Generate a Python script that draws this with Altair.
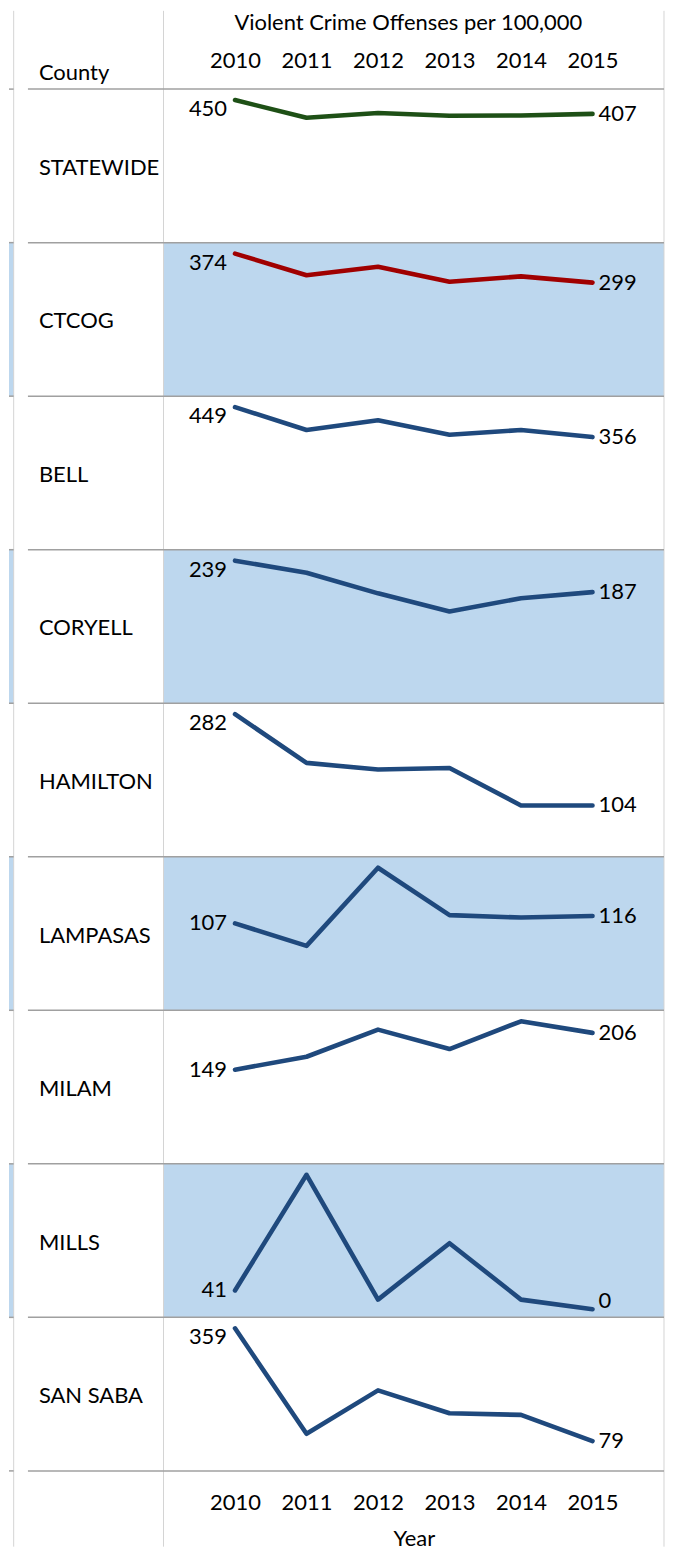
import altair as alt
import pandas as pd

# ---- data ----
counties = ["STATEWIDE", "CTCOG", "BELL", "CORYELL", "HAMILTON",
            "LAMPASAS", "MILAM", "MILLS", "SAN SABA"]
years = [2010, 2011, 2012, 2013, 2014, 2015]

statewide = [450, 395, 410, 401, 402, 407]
ctcog = [374, 318, 340, 301, 315, 299]
bell = [449, 378, 408, 363, 378, 356]
coryell = [239, 219, 185, 155, 177, 187]
hamilton = [282, 187, 174, 177, 104, 104]
lampasas = [107, 80, 174, 117, 114, 116]
milam = [149, 169, 211, 181, 224, 206]
mills = [41, 293, 21, 144, 21, 0]
san_saba = [359, 97, 205, 148, 144, 79]

series = [statewide, ctcog, bell, coryell, hamilton, lampasas, milam, mills, san_saba]
groups = ["State", "Region", "County", "County", "County",
          "County", "County", "County", "County"]
axis_floor = [0, 0, 0, 0, 0, 0, 0, -22, 0]
shaded = [0, 1, 0, 1, 0, 1, 0, 1, 0]

rows = []
for c, vals, g, fl, sh in zip(counties, series, groups, axis_floor, shaded):
    for y, v in zip(years, vals):
        rows.append({"County": c, "Year": y, "Value": v, "Group": g,
                     "Floor": fl, "Shade": sh})
df = pd.DataFrame(rows)

# ---- styling ----
FONT = "Lato"
FS = 22
W, H = 502, 154
TOP_PAD, ZERO_OFF = 11, 156
BLUE_BG = "#BDD7EE"
HLINE = "#A0A0A0"
VLINE = "#D4D4D4"

y_scale = alt.Scale(domain=[(ZERO_OFF - H) / (ZERO_OFF - TOP_PAD),
                            ZERO_OFF / (ZERO_OFF - TOP_PAD)],
                    nice=False, zero=False)
x_scale = alt.Scale(type="point", padding=1)
lo_lbl = (ZERO_OFF - 138) / (ZERO_OFF - TOP_PAD)
hi_lbl = (ZERO_OFF - 20) / (ZERO_OFF - TOP_PAD)

top_axis = alt.Axis(orient="top", title="Violent Crime Offenses per 100,000",
                    labelAngle=0, ticks=False, tickSize=0, domain=False, grid=False,
                    labelFont=FONT, labelFontSize=FS, labelColor="black",
                    labelPadding=16.5, titleFont=FONT, titleFontSize=FS,
                    titleFontWeight="normal", titleColor="black", titlePadding=15,
                    titleX=245, titleAlign="center")
bottom_axis = alt.Axis(orient="bottom", title="Year",
                       labelAngle=0, ticks=False, tickSize=0, domain=False, grid=False,
                       labelFont=FONT, labelFontSize=FS, labelColor="black",
                       labelPadding=21.5, titleFont=FONT, titleFontSize=FS,
                       titleFontWeight="normal", titleColor="black", titlePadding=15)

base = alt.Chart().transform_joinaggregate(
    vmax="max(Value)", groupby=["County"]
).transform_calculate(
    n="(datum.Value - datum.Floor) / (datum.vmax - datum.Floor)",
    ln=f"clamp((datum.Value - datum.Floor) / (datum.vmax - datum.Floor), {lo_lbl}, {hi_lbl})",
)
first = base.transform_filter("datum.Year == 2010")

layers = []
# shaded backgrounds
shade = first.transform_filter("datum.Shade == 1")
layers.append(shade.mark_rect(color=BLUE_BG).encode(
    x=alt.value(0), x2=alt.value(W), y=alt.value(0), y2=alt.value(H)))
layers.append(shade.mark_rect(color=BLUE_BG).encode(
    x=alt.value(-155), x2=alt.value(-150.3), y=alt.value(0), y2=alt.value(H)))

# vertical grid lines
last_row = first.transform_filter("datum.County == 'SAN SABA'")
top_row = first.transform_filter("datum.County == 'STATEWIDE'")
for xv in [-150.3, 0, W]:
    layers.append(first.mark_rule(color=VLINE, strokeWidth=1).encode(
        x=alt.value(xv), y=alt.value(0), y2=alt.value(H)))
    layers.append(top_row.mark_rule(color=VLINE, strokeWidth=1).encode(
        x=alt.value(xv), y=alt.value(-78.5), y2=alt.value(0)))
    layers.append(last_row.mark_rule(color=VLINE, strokeWidth=1).encode(
        x=alt.value(xv), y=alt.value(H), y2=alt.value(H + 76)))

# horizontal row lines
layers.append(first.mark_rule(color=HLINE, strokeWidth=1.5).encode(
    x=alt.value(-136), x2=alt.value(W), y=alt.value(0)))
layers.append(first.mark_rule(color=HLINE, strokeWidth=1.5).encode(
    x=alt.value(-155), x2=alt.value(-150.3), y=alt.value(0)))
layers.append(last_row.mark_rule(color=HLINE, strokeWidth=1.5).encode(
    x=alt.value(-136), x2=alt.value(W), y=alt.value(H)))
layers.append(last_row.mark_rule(color=HLINE, strokeWidth=1.5).encode(
    x=alt.value(-155), x2=alt.value(-150.3), y=alt.value(H)))

# the lines
layers.append(base.mark_line(strokeWidth=4.6, strokeCap="round", strokeJoin="round").encode(
    x=alt.X("Year:O", scale=x_scale, axis=top_axis),
    y=alt.Y("n:Q", scale=y_scale, axis=None),
    color=alt.Color("Group:N", legend=None,
                    scale=alt.Scale(domain=["State", "Region", "County"],
                                    range=["#1E5016", "#A00000", "#1F497D"])),
    detail="County:N",
))

# end labels
layers.append(first.mark_text(align="right", baseline="middle", dx=-8,
                              font=FONT, fontSize=FS, color="black").encode(
    x=alt.X("Year:O", scale=x_scale, axis=bottom_axis),
    y=alt.Y("ln:Q", scale=y_scale, axis=None),
    text=alt.Text("Value:Q", format="d"),
))
layers.append(base.transform_filter("datum.Year == 2015").mark_text(
    align="left", baseline="middle", dx=6, font=FONT, fontSize=FS, color="black").encode(
    x=alt.X("Year:O", scale=x_scale, axis=None),
    y=alt.Y("ln:Q", scale=y_scale, axis=None),
    text=alt.Text("Value:Q", format="d"),
))

# county names and column header
layers.append(first.mark_text(align="left", baseline="alphabetic",
                              font=FONT, fontSize=FS, color="black").encode(
    x=alt.value(-125), y=alt.value(86), text="County:N"))
layers.append(top_row.mark_text(align="left", baseline="alphabetic", text="County",
                                font=FONT, fontSize=FS, color="black").encode(
    x=alt.value(-125), y=alt.value(-9)))

chart = alt.layer(*layers).resolve_axis(x="independent").properties(
    width=W, height=H
).facet(
    row=alt.Row("County:N", sort=counties, header=alt.Header(labels=False, title=None)),
    data=df, spacing=0, bounds="flush",
).properties(padding=0).configure_view(strokeWidth=0)

chart.save("out.html", embed_options={"renderer": "svg", "actions": False})
